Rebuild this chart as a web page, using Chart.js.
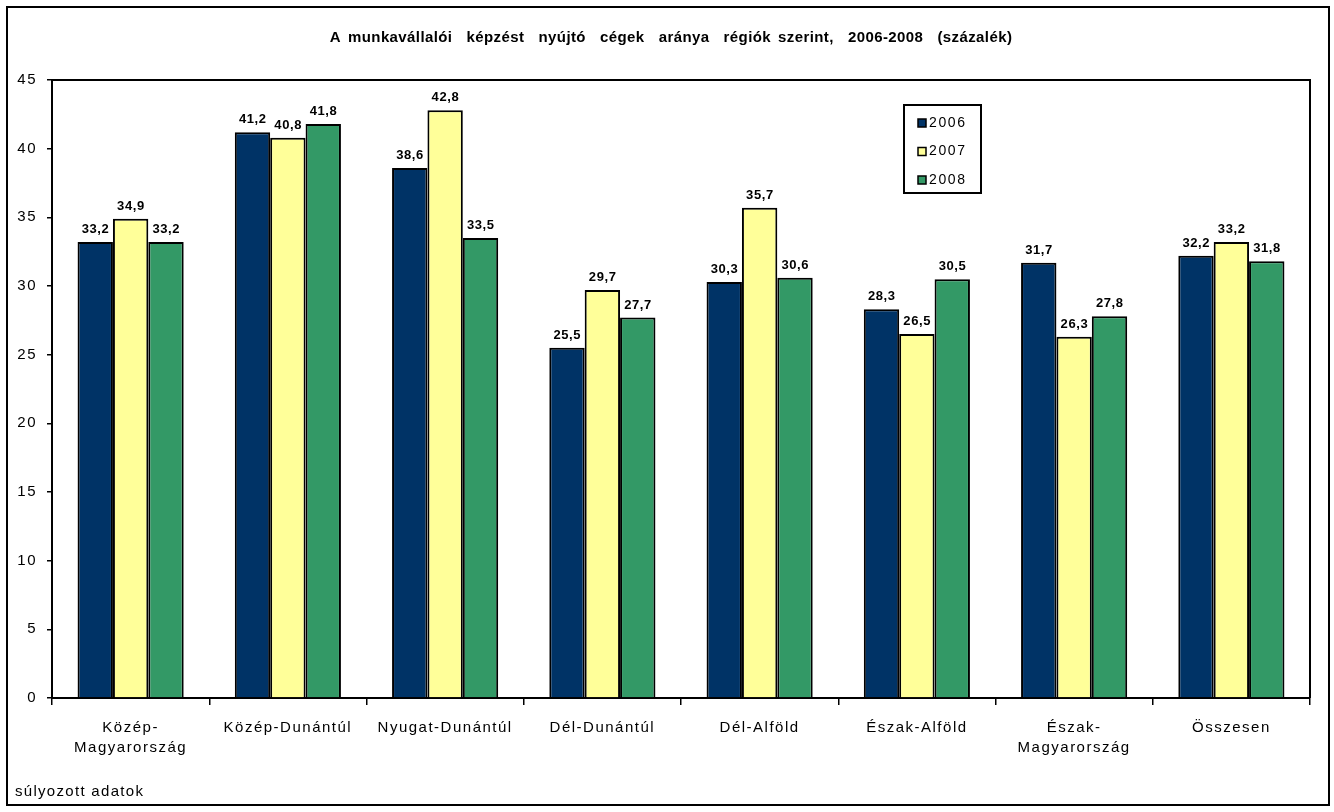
<!DOCTYPE html>
<html>
<head>
<meta charset="utf-8">
<script src="https://cdn.jsdelivr.net/npm/chart.js@4"></script>
<style>
    html, body { margin: 0; padding: 0; background: #fff; }
    #wrap { width: 1334px; height: 812px; }
</style>
</head>
<body>
<div id="wrap"><canvas id="regiokChart" width="1334" height="812"></canvas></div>
<script>
const regiok = [['Közép-', 'Magyarország'], 'Közép-Dunántúl', 'Nyugat-Dunántúl', 'Dél-Dunántúl',
    'Dél-Alföld', 'Észak-Alföld', ['Észak-', 'Magyarország'], 'Összesen'];
const evek = ['2006', '2007', '2008'];
const ertekek2006 = [33.2, 41.2, 38.6, 25.5, 30.3, 28.3, 31.7, 32.2];
const ertekek2007 = [34.9, 40.8, 42.8, 29.7, 35.7, 26.5, 26.3, 33.2];
const ertekek2008 = [33.2, 41.8, 33.5, 27.7, 30.6, 30.5, 27.8, 31.8];
const yTicks = [0, 5, 10, 15, 20, 25, 30, 35, 40, 45];

const cim = 'A munkavállalói  képzést  nyújtó  cégek  aránya  régiók szerint,  2006-2008  (százalék)';
const megjegyzes = 'súlyozott adatok';

const FONT = "'Liberation Sans', Arial, sans-serif";
const colors = ['#003366', '#FFFF99', '#339966'];

// az Excel-kép szélesebb betűközeit utánozza a tengelyfeliratokon
const betukoz = {
    id: 'betukoz',
    beforeLayout(chart) { chart.ctx.letterSpacing = '1.5px'; },
    beforeDraw(chart) { chart.ctx.letterSpacing = '1.5px'; }
};

// keret, cím, lábjegyzet, plot-terület felső/jobb vonala, jelmagyarázat, értékcímkék
const kiegeszitesek = {
    id: 'kiegeszitesek',
    afterDatasetsDraw(chart) {
        const ctx = chart.ctx;
        ctx.save();
        ctx.letterSpacing = '0.6px';
        ctx.font = `bold 13px ${FONT}`;
        ctx.fillStyle = '#000';
        ctx.textAlign = 'center';
        ctx.textBaseline = 'alphabetic';
        chart.data.datasets.forEach((ds, i) => {
            chart.getDatasetMeta(i).data.forEach((bar, j) => {
                const txt = ds.data[j].toFixed(1).replace('.', ',');
                ctx.fillText(txt, bar.x + 0.3, bar.y - 9);
            });
        });
        ctx.restore();
    },
    afterDraw(chart) {
        const ctx = chart.ctx;
        const area = chart.chartArea;
        ctx.save();
        ctx.strokeStyle = '#000';
        ctx.lineWidth = 2;
        ctx.strokeRect(7, 7, 1322, 798);

        ctx.beginPath();
        ctx.moveTo(area.left, area.top);
        ctx.lineTo(area.right, area.top);
        ctx.lineTo(area.right, area.bottom);
        ctx.stroke();

        // cím
        ctx.fillStyle = '#000';
        ctx.textBaseline = 'middle';
        ctx.textAlign = 'center';
        ctx.font = `bold 15px ${FONT}`;
        ctx.letterSpacing = '0.4px';
        ctx.wordSpacing = '2.5px';
        ctx.fillText(cim, 671, 38);
        ctx.wordSpacing = '0px';

        // lábjegyzet
        ctx.textAlign = 'left';
        ctx.font = `15px ${FONT}`;
        ctx.letterSpacing = '1.3px';
        ctx.fillText(megjegyzes, 15, 792);

        // jelmagyarázat
        const lx = 904, ly = 105, lw = 77, lh = 88;
        ctx.fillStyle = '#fff';
        ctx.fillRect(lx, ly, lw, lh);
        ctx.strokeRect(lx, ly, lw, lh);
        ctx.font = `14px ${FONT}`;
        ctx.letterSpacing = '1.6px';
        chart.data.datasets.forEach((ds, i) => {
            const y = ly + 18 + i * 28.5;
            ctx.fillStyle = ds.backgroundColor;
            ctx.fillRect(918, y - 4, 8, 8);
            ctx.lineWidth = 1.5;
            ctx.strokeRect(918, y - 4, 8, 8);
            ctx.fillStyle = '#000';
            ctx.fillText(ds.label, 929, y);
        });
        ctx.restore();
    }
};

new Chart(document.getElementById('regiokChart'), {
    type: 'bar',
    data: {
        labels: regiok,
        datasets: [ertekek2006, ertekek2007, ertekek2008].map((d, i) => ({
            label: evek[i],
            data: d,
            backgroundColor: colors[i],
            borderColor: '#000',
            borderWidth: 2,
            borderSkipped: 'bottom',
            categoryPercentage: 0.675,
            barPercentage: 1
        }))
    },
    options: {
        responsive: false,
        animation: false,
        layout: { padding: { left: 15, right: 24, top: 80, bottom: 0 } },
        plugins: {
            legend: { display: false },
            tooltip: { enabled: false },
            title: { display: false }
        },
        scales: {
            x: {
                grid: {
                    display: true,
                    drawOnChartArea: false,
                    offset: true,
                    color: '#000',
                    lineWidth: 1.5,
                    tickLength: 7
                },
                border: { color: '#000', width: 2 },
                ticks: {
                    color: '#000',
                    font: { family: FONT, size: 15, lineHeight: 1.34 },
                    padding: 13,
                    maxRotation: 0,
                    autoSkip: false
                },
                afterFit(scale) { scale.height = 114; }
            },
            y: {
                min: 0,
                max: 45,
                afterBuildTicks(scale) { scale.ticks = yTicks.map(v => ({ value: v })); },
                grid: {
                    display: true,
                    drawOnChartArea: false,
                    color: '#000',
                    lineWidth: 1.5,
                    tickLength: 5
                },
                border: { color: '#000', width: 2 },
                ticks: {
                    color: '#000',
                    font: { family: FONT, size: 15 },
                    padding: 10
                },
                afterFit(scale) { scale.width = 37; }
            }
        }
    },
    plugins: [betukoz, kiegeszitesek]
});
</script>
</body>
</html>
